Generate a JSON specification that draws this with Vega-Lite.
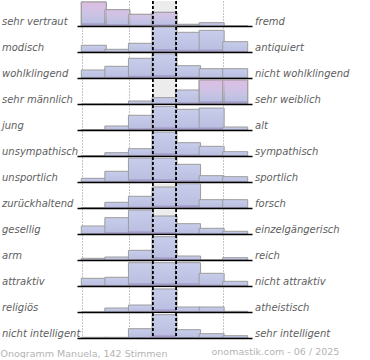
{
  "$schema": "https://vega.github.io/schema/vega-lite/v6.json",
  "padding": {"left": 0, "top": 0, "right": 5, "bottom": 0},
  "background": "white",
  "bounds": "flush",
  "data": {"values": [
    {"left": "sehr vertraut", "right": "fremd", "bin": 1, "v": 24},
    {"left": "sehr vertraut", "right": "fremd", "bin": 2, "v": 16.3},
    {"left": "sehr vertraut", "right": "fremd", "bin": 3, "v": 11.7},
    {"left": "sehr vertraut", "right": "fremd", "bin": 4, "v": 13.7},
    {"left": "sehr vertraut", "right": "fremd", "bin": 5, "v": 1.7},
    {"left": "sehr vertraut", "right": "fremd", "bin": 6, "v": 3.3},
    {"left": "sehr vertraut", "right": "fremd", "bin": 7, "v": 0},
    {"left": "modisch", "right": "antiquiert", "bin": 1, "v": 6.7},
    {"left": "modisch", "right": "antiquiert", "bin": 2, "v": 2.7},
    {"left": "modisch", "right": "antiquiert", "bin": 3, "v": 8.7},
    {"left": "modisch", "right": "antiquiert", "bin": 4, "v": 25},
    {"left": "modisch", "right": "antiquiert", "bin": 5, "v": 19.7},
    {"left": "modisch", "right": "antiquiert", "bin": 6, "v": 21.7},
    {"left": "modisch", "right": "antiquiert", "bin": 7, "v": 10.3},
    {"left": "wohlklingend", "right": "nicht wohlklingend", "bin": 1, "v": 8},
    {"left": "wohlklingend", "right": "nicht wohlklingend", "bin": 2, "v": 11.7},
    {"left": "wohlklingend", "right": "nicht wohlklingend", "bin": 3, "v": 19.7},
    {"left": "wohlklingend", "right": "nicht wohlklingend", "bin": 4, "v": 24.3},
    {"left": "wohlklingend", "right": "nicht wohlklingend", "bin": 5, "v": 12.3},
    {"left": "wohlklingend", "right": "nicht wohlklingend", "bin": 6, "v": 9.3},
    {"left": "wohlklingend", "right": "nicht wohlklingend", "bin": 7, "v": 9.3},
    {"left": "sehr männlich", "right": "sehr weiblich", "bin": 1, "v": 0},
    {"left": "sehr männlich", "right": "sehr weiblich", "bin": 2, "v": 0},
    {"left": "sehr männlich", "right": "sehr weiblich", "bin": 3, "v": 3},
    {"left": "sehr männlich", "right": "sehr weiblich", "bin": 4, "v": 6.3},
    {"left": "sehr männlich", "right": "sehr weiblich", "bin": 5, "v": 14},
    {"left": "sehr männlich", "right": "sehr weiblich", "bin": 6, "v": 24},
    {"left": "sehr männlich", "right": "sehr weiblich", "bin": 7, "v": 24},
    {"left": "\u00a0jung", "right": "alt", "bin": 1, "v": 0.5},
    {"left": "\u00a0jung", "right": "alt", "bin": 2, "v": 4},
    {"left": "\u00a0jung", "right": "alt", "bin": 3, "v": 14.7},
    {"left": "\u00a0jung", "right": "alt", "bin": 4, "v": 23.7},
    {"left": "\u00a0jung", "right": "alt", "bin": 5, "v": 20.7},
    {"left": "\u00a0jung", "right": "alt", "bin": 6, "v": 22},
    {"left": "\u00a0jung", "right": "alt", "bin": 7, "v": 3},
    {"left": "unsympathisch", "right": "sympathisch", "bin": 1, "v": 0.5},
    {"left": "unsympathisch", "right": "sympathisch", "bin": 2, "v": 3.3},
    {"left": "unsympathisch", "right": "sympathisch", "bin": 3, "v": 7.3},
    {"left": "unsympathisch", "right": "sympathisch", "bin": 4, "v": 24},
    {"left": "unsympathisch", "right": "sympathisch", "bin": 5, "v": 13.3},
    {"left": "unsympathisch", "right": "sympathisch", "bin": 6, "v": 9.7},
    {"left": "unsympathisch", "right": "sympathisch", "bin": 7, "v": 4.3},
    {"left": "unsportlich", "right": "sportlich", "bin": 1, "v": 3.7},
    {"left": "unsportlich", "right": "sportlich", "bin": 2, "v": 10.7},
    {"left": "unsportlich", "right": "sportlich", "bin": 3, "v": 24},
    {"left": "unsportlich", "right": "sportlich", "bin": 4, "v": 24},
    {"left": "unsportlich", "right": "sportlich", "bin": 5, "v": 17.7},
    {"left": "unsportlich", "right": "sportlich", "bin": 6, "v": 6.3},
    {"left": "unsportlich", "right": "sportlich", "bin": 7, "v": 5.3},
    {"left": "zurückhaltend", "right": "forsch", "bin": 1, "v": 0.5},
    {"left": "zurückhaltend", "right": "forsch", "bin": 2, "v": 5.7},
    {"left": "zurückhaltend", "right": "forsch", "bin": 3, "v": 11.7},
    {"left": "zurückhaltend", "right": "forsch", "bin": 4, "v": 21},
    {"left": "zurückhaltend", "right": "forsch", "bin": 5, "v": 24.3},
    {"left": "zurückhaltend", "right": "forsch", "bin": 6, "v": 8.3},
    {"left": "zurückhaltend", "right": "forsch", "bin": 7, "v": 8.3},
    {"left": "gesellig", "right": "einzelgängerisch", "bin": 1, "v": 8},
    {"left": "gesellig", "right": "einzelgängerisch", "bin": 2, "v": 16.3},
    {"left": "gesellig", "right": "einzelgängerisch", "bin": 3, "v": 24},
    {"left": "gesellig", "right": "einzelgängerisch", "bin": 4, "v": 18},
    {"left": "gesellig", "right": "einzelgängerisch", "bin": 5, "v": 10.3},
    {"left": "gesellig", "right": "einzelgängerisch", "bin": 6, "v": 5.7},
    {"left": "gesellig", "right": "einzelgängerisch", "bin": 7, "v": 2.7},
    {"left": "arm", "right": "reich", "bin": 1, "v": 1.7},
    {"left": "arm", "right": "reich", "bin": 2, "v": 3},
    {"left": "arm", "right": "reich", "bin": 3, "v": 9.7},
    {"left": "arm", "right": "reich", "bin": 4, "v": 23.3},
    {"left": "arm", "right": "reich", "bin": 5, "v": 4},
    {"left": "arm", "right": "reich", "bin": 6, "v": 0},
    {"left": "arm", "right": "reich", "bin": 7, "v": 2.3},
    {"left": "attraktiv", "right": "nicht attraktiv", "bin": 1, "v": 7.7},
    {"left": "attraktiv", "right": "nicht attraktiv", "bin": 2, "v": 8.7},
    {"left": "attraktiv", "right": "nicht attraktiv", "bin": 3, "v": 23.3},
    {"left": "attraktiv", "right": "nicht attraktiv", "bin": 4, "v": 23.3},
    {"left": "attraktiv", "right": "nicht attraktiv", "bin": 5, "v": 23.3},
    {"left": "attraktiv", "right": "nicht attraktiv", "bin": 6, "v": 12.7},
    {"left": "attraktiv", "right": "nicht attraktiv", "bin": 7, "v": 4.7},
    {"left": "religiös", "right": "atheistisch", "bin": 1, "v": 0},
    {"left": "religiös", "right": "atheistisch", "bin": 2, "v": 4},
    {"left": "religiös", "right": "atheistisch", "bin": 3, "v": 7},
    {"left": "religiös", "right": "atheistisch", "bin": 4, "v": 23},
    {"left": "religiös", "right": "atheistisch", "bin": 5, "v": 5},
    {"left": "religiös", "right": "atheistisch", "bin": 6, "v": 5},
    {"left": "religiös", "right": "atheistisch", "bin": 7, "v": 0.7},
    {"left": "nicht intelligent", "right": "sehr intelligent", "bin": 1, "v": 0.7},
    {"left": "nicht intelligent", "right": "sehr intelligent", "bin": 2, "v": 0.7},
    {"left": "nicht intelligent", "right": "sehr intelligent", "bin": 3, "v": 9.3},
    {"left": "nicht intelligent", "right": "sehr intelligent", "bin": 4, "v": 23.3},
    {"left": "nicht intelligent", "right": "sehr intelligent", "bin": 5, "v": 8.3},
    {"left": "nicht intelligent", "right": "sehr intelligent", "bin": 6, "v": 4.3},
    {"left": "nicht intelligent", "right": "sehr intelligent", "bin": 7, "v": 2.3}
  ]},
  "facet": {
    "row": {
      "field": "left",
      "type": "nominal",
      "sort": ["sehr vertraut", "modisch", "wohlklingend", "sehr männlich", "\u00a0jung", "unsympathisch", "unsportlich", "zurückhaltend", "gesellig", "arm", "attraktiv", "religiös", "nicht intelligent"],
      "header": {"labels": false, "title": null, "labelPadding": 0, "titlePadding": 0}
    }
  },
  "spacing": 0,
  "title": {
    "text": "onomastik.com - 06 / 2025",
    "orient": "bottom",
    "anchor": "end",
    "font": "DejaVu Sans",
    "fontSize": 9.5,
    "fontWeight": "normal",
    "color": "#b4b4b4",
    "offset": 0,
    "dx": -10,
    "dy": -11
  },
  "spec": {
    "width": 175,
    "height": 26,
    "layer": [
      {
        "mark": {"type": "rect", "color": "#ececec"},
        "encoding": {
          "x": {"datum": 3.5, "type": "quantitative"},
          "x2": {"datum": 4.5}
        }
      },
      {
        "mark": {
          "type": "bar",
          "width": 25,
          "fill": {
            "gradient": "linear", "x1": 0, "y1": 0, "x2": 0, "y2": 1,
            "stops": [
              {"offset": 0, "color": "#c8cdeb"},
              {"offset": 0.86, "color": "#bbc0e2"},
              {"offset": 0.9, "color": "#a9a3d0"},
              {"offset": 1, "color": "#9d94c6"}
            ]
          },
          "stroke": "#9c9c9c",
          "strokeWidth": 1
        },
        "encoding": {
          "x": {
            "field": "bin",
            "type": "quantitative",
            "scale": {"domain": [0.5, 7.5], "nice": false, "zero": false},
            "axis": {
              "values": [0.5, 1.5, 2.5, 3.5, 4.5, 5.5, 6.5, 7.5],
              "labels": false,
              "ticks": false,
              "domain": false,
              "grid": true,
              "gridColor": "#8a8a8a",
              "gridDash": [1, 2],
              "gridWidth": 1,
              "title": "Onogramm Manuela, 142 Stimmen",
              "titleFont": "DejaVu Sans",
              "titleFontSize": 9.5,
              "titleFontWeight": "normal",
              "titleColor": "#b4b4b4",
              "titleAlign": "left",
              "titleBaseline": "alphabetic",
              "titleX": -77,
              "titleY": 17
            }
          },
          "y": {
            "field": "v",
            "type": "quantitative",
            "scale": {"domain": [-1, 25], "nice": false, "zero": false},
            "axis": {
              "values": [0],
              "labels": false,
              "ticks": false,
              "domain": false,
              "title": null,
              "grid": true,
              "gridColor": "black",
              "gridWidth": 1.5,
              "zindex": 1
            }
          }
        }
      },
      {
        "transform": [{"filter": "datum.left == 'sehr vertraut' || (datum.left == 'sehr männlich' && datum.bin >= 6)"}],
        "mark": {
          "type": "bar",
          "width": 25,
          "fill": {
            "gradient": "linear", "x1": 0, "y1": 0, "x2": 0, "y2": 1,
            "stops": [
              {"offset": 0, "color": "rgba(222,190,226,1)"},
              {"offset": 0.85, "color": "rgba(222,190,226,0)"}
            ]
          },
          "stroke": "#9c9c9c",
          "strokeWidth": 1
        },
        "encoding": {
          "x": {"field": "bin", "type": "quantitative"},
          "y": {"field": "v", "type": "quantitative"},
          "opacity": {"field": "v", "type": "quantitative", "scale": {"domain": [0, 25], "range": [0.2, 1]}, "legend": null}
        }
      },
      {
        "mark": {"type": "rule", "color": "black", "strokeDash": [3, 2], "strokeWidth": 1},
        "encoding": {"x": {"datum": 3.5, "type": "quantitative"}}
      },
      {
        "mark": {"type": "rule", "color": "black", "strokeDash": [3, 2], "strokeWidth": 1},
        "encoding": {"x": {"datum": 4.5, "type": "quantitative"}}
      },
      {
        "transform": [{"filter": "datum.bin == 1"}],
        "mark": {"type": "text", "align": "left", "baseline": "alphabetic", "dx": -80, "dy": 11, "font": "DejaVu Sans", "fontStyle": "italic", "fontSize": 10, "color": "#5e5e5e"},
        "encoding": {
          "text": {"field": "left"},
          "x": {"datum": 0.5, "type": "quantitative"}
        }
      },
      {
        "transform": [{"filter": "datum.bin == 1"}],
        "mark": {"type": "text", "align": "left", "baseline": "alphabetic", "dx": 8, "dy": 11, "font": "DejaVu Sans", "fontStyle": "italic", "fontSize": 10, "color": "#5e5e5e"},
        "encoding": {
          "text": {"field": "right"},
          "x": {"datum": 7.5, "type": "quantitative"}
        }
      }
    ]
  },
  "config": {
    "view": {"stroke": null},
    "font": "DejaVu Sans"
  }
}
